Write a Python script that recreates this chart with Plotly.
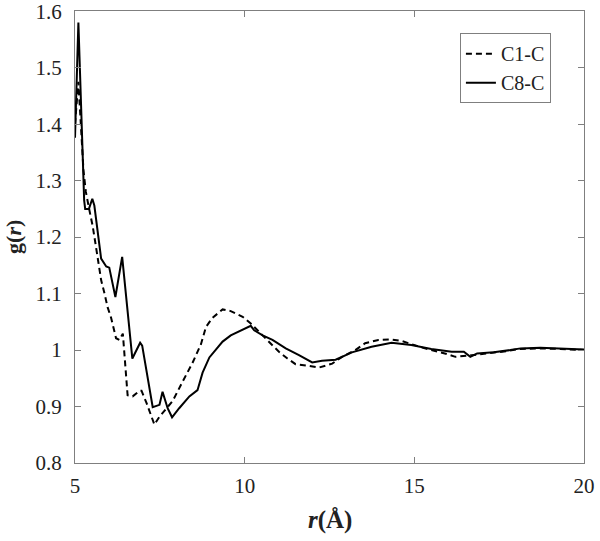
import plotly.graph_objects as go

# C1-C (dashed)
r_c1 = [5.00, 5.10, 5.25, 5.32, 5.43, 5.52, 5.62, 5.72, 5.77, 5.87, 5.96, 6.06, 6.21, 6.31, 6.41,
        6.55, 6.70, 6.90, 6.96, 7.11, 7.34, 7.49, 7.68, 7.88, 8.17, 8.46, 8.71, 8.86, 9.05, 9.35,
        9.59, 9.94, 10.18, 10.43, 10.72, 11.01, 11.26, 11.50, 11.90, 12.19, 12.58, 12.87, 13.26,
        13.55, 13.94, 14.28, 14.63, 15.31, 15.90, 16.21, 16.70, 17.20, 17.70, 18.10, 18.70, 19.30, 20.00]
g_c1 = [1.400, 1.475, 1.318, 1.280, 1.246, 1.220, 1.182, 1.147, 1.124, 1.100, 1.076, 1.058, 1.021, 1.018, 1.029,
        0.920, 0.918, 0.928, 0.928, 0.906, 0.868, 0.882, 0.895, 0.910, 0.944, 0.977, 1.010, 1.041, 1.057, 1.072,
        1.069, 1.059, 1.047, 1.032, 1.015, 0.997, 0.985, 0.975, 0.972, 0.969, 0.976, 0.988, 1.000,
        1.012, 1.018, 1.019, 1.016, 1.003, 0.994, 0.988, 0.991, 0.994, 0.998, 1.002, 1.003, 1.002, 1.000]

# C8-C (solid)
r_c8 = [5.00, 5.10, 5.27, 5.30, 5.41, 5.51, 5.57, 5.67, 5.77, 5.92, 6.01, 6.19, 6.39, 6.69, 6.92,
        6.98, 7.29, 7.49, 7.58, 7.73, 7.86, 8.07, 8.37, 8.61, 8.76, 8.96, 9.15, 9.35, 9.59, 9.84,
        10.04, 10.18, 10.28, 10.53, 10.82, 11.21, 11.60, 11.99, 12.28, 12.68, 13.16, 13.74, 14.33,
        14.91, 15.50, 16.10, 16.46, 16.65, 16.85, 17.34, 17.83, 18.13, 18.71, 19.30, 19.89, 20.00]
g_c8 = [1.376, 1.580, 1.265, 1.250, 1.250, 1.268, 1.256, 1.206, 1.162, 1.148, 1.146, 1.094, 1.165, 0.985, 1.013,
        1.008, 0.899, 0.903, 0.926, 0.897, 0.881, 0.897, 0.918, 0.929, 0.960, 0.987, 1.000, 1.015, 1.026, 1.033,
        1.038, 1.043, 1.035, 1.026, 1.018, 1.003, 0.991, 0.978, 0.981, 0.983, 0.996, 1.006, 1.013,
        1.009, 1.002, 0.997, 0.997, 0.988, 0.994, 0.996, 1.000, 1.003, 1.004, 1.003, 1.002, 1.001]

x_ticks = [5, 10, 15, 20]
y_ticks = [0.8, 0.9, 1.0, 1.1, 1.2, 1.3, 1.4, 1.5, 1.6]
y_ticklabels = ["0.8", "0.9", "1", "1.1", "1.2", "1.3", "1.4", "1.5", "1.6"]

FONT = "Liberation Serif, Times New Roman, serif"

fig = go.Figure()
fig.add_trace(go.Scatter(x=r_c1, y=g_c1, mode="lines", name="C1-C",
                         line=dict(color="black", width=2, dash="6px,4px")))
fig.add_trace(go.Scatter(x=r_c8, y=g_c8, mode="lines", name="C8-C",
                         line=dict(color="black", width=2)))

axis_common = dict(showgrid=False, zeroline=False, showline=True, linecolor="#7f7f7f",
                   linewidth=1, mirror="ticks", ticks="inside", ticklen=6,
                   tickcolor="#7f7f7f", ticklabeloverflow="allow", automargin=False,
                   tickfont=dict(family=FONT, size=21, color="#222"))

fig.update_layout(
    width=600, height=541,
    font=dict(family=FONT, color="#222"),
    margin=dict(l=75, r=16, t=11, b=78, autoexpand=False),
    paper_bgcolor="white", plot_bgcolor="white",
    xaxis=dict(range=[5, 20], tickvals=x_ticks, ticklabelstandoff=4, **axis_common),
    yaxis=dict(range=[0.8, 1.6005], tickvals=y_ticks, ticktext=y_ticklabels,
               ticklabelstandoff=8, **axis_common),
    legend=dict(x=0.935, y=0.951, xanchor="right", yanchor="top",
                bgcolor="white", bordercolor="#7f7f7f", borderwidth=1,
                font=dict(family=FONT, size=20, color="#222"),
                tracegroupgap=0, itemwidth=30),
    showlegend=True,
    annotations=[
        dict(text="<b><i>r</i>(Å)</b>", xref="paper", yref="paper", x=0.5, y=-0.09,
             xanchor="center", yanchor="top", showarrow=False,
             font=dict(family=FONT, size=25, color="#222")),
        dict(text="<b>g(<i>r</i>)</b>", xref="paper", yref="paper", x=-0.122, y=0.5,
             xanchor="center", yanchor="middle", showarrow=False, textangle=-90,
             font=dict(family=FONT, size=22, color="#222")),
    ],
)

fig.write_html("out.html", config={"displayModeBar": False, "responsive": False},
               post_script="document.body.style.margin='0';")
